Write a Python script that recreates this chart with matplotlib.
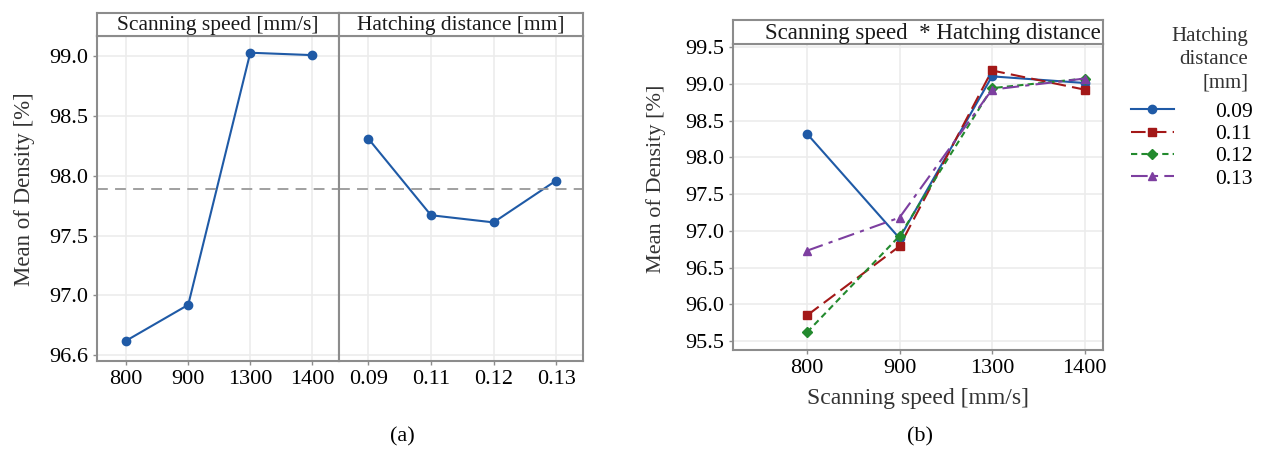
import matplotlib.pyplot as plt

plt.rcParams['font.family'] = ['Liberation Serif', 'DejaVu Serif']

W, H = 1261, 454

# main effects, panel (a)
speed_labels = ["800", "900", "1300", "1400"]
speed_means = [96.62, 96.92, 99.03, 99.01]
hatch_labels = ["0.09", "0.11", "0.12", "0.13"]
hatch_means = [98.31, 97.67, 97.61, 97.96]
grand_mean = 97.89

# interaction, panel (b)
inter_0_09 = [98.32, 96.90, 99.10, 99.01]
inter_0_11 = [95.85, 96.79, 99.18, 98.92]
inter_0_12 = [95.62, 96.93, 98.94, 99.07]
inter_0_13 = [96.73, 97.18, 98.92, 99.07]

frame_col = "#8c8c8c"
grid_col = "#ececec"
tick_fs = 16


def box(px_left, px_top, px_w, px_h):
    return [px_left / W, 1 - (px_top + px_h) / H, px_w / W, px_h / H]


def style_panel(ax):
    for s in ax.spines.values():
        s.set_color(frame_col)
        s.set_linewidth(1.5)
    ax.grid(True, color=grid_col, linewidth=1.2)
    ax.set_axisbelow(True)
    ax.tick_params(colors="#333333", labelcolor="black", labelsize=tick_fs,
                   length=3, width=1, color=frame_col)


def strip(rect, text, ha="center", x=0.5, fs=15.5):
    s = fig.add_axes(rect)
    s.set_xticks([])
    s.set_yticks([])
    for sp in s.spines.values():
        sp.set_color(frame_col)
        sp.set_linewidth(1.5)
    s.text(x, 0.45, text, ha=ha, va="center", fontsize=fs, color="#1a1a1a")
    return s


fig = plt.figure(figsize=(W / 100, H / 100), dpi=100)

# ---- panel (a)
ax1 = fig.add_axes(box(97, 36, 242, 325))
ax2 = fig.add_axes(box(339, 36, 244, 325), sharey=ax1)
line_col = "#1f5aa6"
ax1.plot(speed_labels, speed_means, color=line_col, marker="o", markersize=6, lw=1.5)
ax2.plot(hatch_labels, hatch_means, color=line_col, marker="o", markersize=6, lw=1.5)
for ax in (ax1, ax2):
    style_panel(ax)
    ax.axhline(grand_mean, color="#999999", lw=1.3, ls=(0, (6, 4)))
    ax.set_xlim(-0.47, 3.43)
ax1.set_ylim(96.45, 99.17)
ax1.set_yticks([96.5, 97.0, 97.5, 98.0, 98.5, 99.0])
ax1.set_yticklabels(["96.6", "97.0", "97.5", "98.0", "98.5", "99.0"])
ax2.tick_params(axis="y", left=False, labelleft=False)
ax1.set_ylabel("Mean of Density [%]", fontsize=16.5, color="#333333")
ax1.yaxis.set_label_coords(-0.255, 0.53)
strip(box(97, 13, 242, 23), "Scanning speed [mm/s]")
strip(box(339, 13, 244, 23), "Hatching distance [mm]")

# ---- panel (b)
ax3 = fig.add_axes(box(733, 44, 370, 306))
style_panel(ax3)
series = [
    ("0.09", inter_0_09, "#1f5aa6", "o", "-"),
    ("0.11", inter_0_11, "#a31818", "s", (0, (7, 3))),
    ("0.12", inter_0_12, "#238a2e", "D", (0, (3, 2))),
    ("0.13", inter_0_13, "#7d3fa0", "^", (0, (8, 3, 2, 3))),
]
handles = []
for lab, vals, col, mk, ls in series:
    h, = ax3.plot(speed_labels, vals, color=col, marker=mk, ls=ls, lw=1.5,
                  markersize=6 if mk != "D" else 5, label=lab)
    handles.append(h)
ax3.set_xlim(-0.8, 3.2)
ax3.set_ylim(95.38, 99.54)
ax3.set_yticks([95.5, 96.0, 96.5, 97.0, 97.5, 98.0, 98.5, 99.0, 99.5])
ax3.set_ylabel("Mean of Density [%]", fontsize=16, color="#333333")
ax3.yaxis.set_label_coords(-0.18, 0.56)
ax3.set_xlabel("Scanning speed [mm/s]", fontsize=17, color="#333333", labelpad=7)
strip(box(733, 20, 370, 24), "Scanning speed  * Hatching distance", ha="right",
      x=0.995, fs=16.5)

fig.text(1248 / W, 1 - 27 / H, "Hatching\ndistance\n[mm]", ha="right", va="top",
         multialignment="right", fontsize=15, color="#333333", linespacing=1.32)
fig.legend(handles=handles, labels=[s[0] for s in series], loc="upper left",
           bbox_to_anchor=(1120 / W, 1 - 91 / H), frameon=False, fontsize=15.5,
           handlelength=2.0, handletextpad=1.9, labelspacing=0.1, borderpad=0)

fig.text(402 / W, 1 - 437 / H, "(a)", ha="center", va="center", fontsize=16)
fig.text(920 / W, 1 - 437 / H, "(b)", ha="center", va="center", fontsize=16)

fig.savefig("out.png", dpi=100)
